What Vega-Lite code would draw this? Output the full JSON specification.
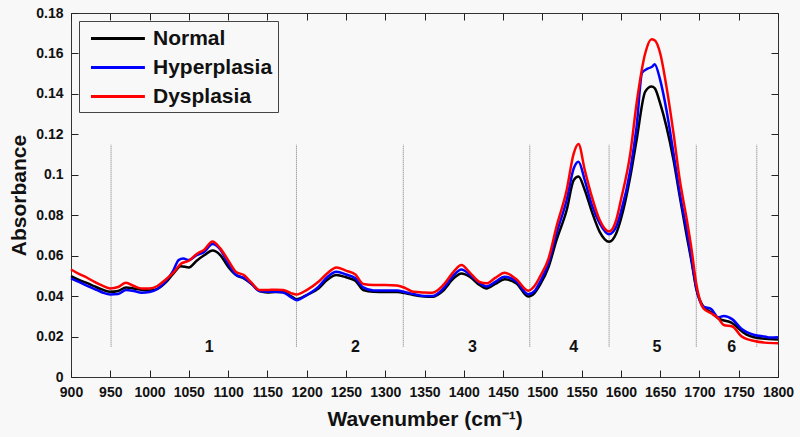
{
  "$schema": "https://vega.github.io/schema/vega-lite/v6.json",
  "autosize": {"type": "none"},
  "width": 707,
  "height": 364,
  "padding": {"left": 71, "top": 13, "right": 22, "bottom": 60},
  "background": "#f8f8f8",
  "config": {
    "font": "Liberation Sans",
    "view": {"stroke": "#333333", "strokeWidth": 1},
    "axis": {"grid": false, "domain": false, "ticks": true, "offset": -7, "zindex": 3, "labelFont": "Liberation Sans", "labelFontWeight": "bold", "labelFontSize": 14, "labelColor": "#111111", "labelFlush": false, "labelOverlap": false, "tickColor": "#222222", "tickWidth": 1, "tickSize": 7, "tickOpacity": 1, "titleFont": "Liberation Sans", "titleFontWeight": "bold", "titleFontSize": 21, "titleColor": "#111111"}
  },
  "datasets": {
    "curves": [
      {"w":900,"v":0.0499,"s":"Normal"},{"w":910,"v":0.048,"s":"Normal"},{"w":920,"v":0.0465,"s":"Normal"},{"w":930,"v":0.0448,"s":"Normal"},{"w":940,"v":0.0432,"s":"Normal"},{"w":950,"v":0.0421,"s":"Normal"},{"w":960,"v":0.0425,"s":"Normal"},{"w":970,"v":0.0443,"s":"Normal"},{"w":980,"v":0.0438,"s":"Normal"},{"w":990,"v":0.043,"s":"Normal"},{"w":1000,"v":0.0428,"s":"Normal"},{"w":1010,"v":0.0436,"s":"Normal"},{"w":1020,"v":0.0465,"s":"Normal"},{"w":1030,"v":0.051,"s":"Normal"},{"w":1040,"v":0.0548,"s":"Normal"},{"w":1050,"v":0.0542,"s":"Normal"},{"w":1060,"v":0.0575,"s":"Normal"},{"w":1070,"v":0.0603,"s":"Normal"},{"w":1080,"v":0.0625,"s":"Normal"},{"w":1090,"v":0.0603,"s":"Normal"},{"w":1100,"v":0.0545,"s":"Normal"},{"w":1110,"v":0.0504,"s":"Normal"},{"w":1120,"v":0.0488,"s":"Normal"},{"w":1130,"v":0.046,"s":"Normal"},{"w":1140,"v":0.0425,"s":"Normal"},{"w":1150,"v":0.0418,"s":"Normal"},{"w":1160,"v":0.042,"s":"Normal"},{"w":1170,"v":0.042,"s":"Normal"},{"w":1180,"v":0.04,"s":"Normal"},{"w":1187,"v":0.0385,"s":"Normal"},{"w":1200,"v":0.0405,"s":"Normal"},{"w":1215,"v":0.0438,"s":"Normal"},{"w":1226,"v":0.048,"s":"Normal"},{"w":1238,"v":0.0504,"s":"Normal"},{"w":1250,"v":0.0493,"s":"Normal"},{"w":1262,"v":0.0476,"s":"Normal"},{"w":1272,"v":0.043,"s":"Normal"},{"w":1285,"v":0.0421,"s":"Normal"},{"w":1300,"v":0.042,"s":"Normal"},{"w":1315,"v":0.042,"s":"Normal"},{"w":1325,"v":0.0415,"s":"Normal"},{"w":1336,"v":0.0405,"s":"Normal"},{"w":1350,"v":0.0398,"s":"Normal"},{"w":1360,"v":0.0397,"s":"Normal"},{"w":1374,"v":0.0428,"s":"Normal"},{"w":1387,"v":0.0488,"s":"Normal"},{"w":1397,"v":0.0512,"s":"Normal"},{"w":1408,"v":0.0495,"s":"Normal"},{"w":1420,"v":0.0455,"s":"Normal"},{"w":1429,"v":0.0438,"s":"Normal"},{"w":1440,"v":0.046,"s":"Normal"},{"w":1452,"v":0.0483,"s":"Normal"},{"w":1467,"v":0.0463,"s":"Normal"},{"w":1482,"v":0.0398,"s":"Normal"},{"w":1490,"v":0.0415,"s":"Normal"},{"w":1497,"v":0.0455,"s":"Normal"},{"w":1508,"v":0.0545,"s":"Normal"},{"w":1518,"v":0.0677,"s":"Normal"},{"w":1531,"v":0.0826,"s":"Normal"},{"w":1540,"v":0.0974,"s":"Normal"},{"w":1546,"v":0.0991,"s":"Normal"},{"w":1554,"v":0.0925,"s":"Normal"},{"w":1563,"v":0.0818,"s":"Normal"},{"w":1573,"v":0.0718,"s":"Normal"},{"w":1585,"v":0.0669,"s":"Normal"},{"w":1594,"v":0.071,"s":"Normal"},{"w":1600,"v":0.078,"s":"Normal"},{"w":1612,"v":0.0991,"s":"Normal"},{"w":1620,"v":0.1172,"s":"Normal"},{"w":1631,"v":0.1411,"s":"Normal"},{"w":1639,"v":0.1436,"s":"Normal"},{"w":1643,"v":0.1428,"s":"Normal"},{"w":1650,"v":0.1353,"s":"Normal"},{"w":1658,"v":0.1238,"s":"Normal"},{"w":1667,"v":0.1073,"s":"Normal"},{"w":1675,"v":0.0891,"s":"Normal"},{"w":1684,"v":0.0694,"s":"Normal"},{"w":1690,"v":0.057,"s":"Normal"},{"w":1696,"v":0.0435,"s":"Normal"},{"w":1705,"v":0.0348,"s":"Normal"},{"w":1715,"v":0.032,"s":"Normal"},{"w":1724,"v":0.029,"s":"Normal"},{"w":1740,"v":0.027,"s":"Normal"},{"w":1760,"v":0.021,"s":"Normal"},{"w":1780,"v":0.019,"s":"Normal"},{"w":1800,"v":0.0185,"s":"Normal"},

      {"w":900,"v":0.0488,"s":"Hyperplasia"},{"w":910,"v":0.047,"s":"Hyperplasia"},{"w":920,"v":0.0452,"s":"Hyperplasia"},{"w":930,"v":0.0435,"s":"Hyperplasia"},{"w":940,"v":0.0418,"s":"Hyperplasia"},{"w":950,"v":0.0408,"s":"Hyperplasia"},{"w":960,"v":0.041,"s":"Hyperplasia"},{"w":970,"v":0.043,"s":"Hyperplasia"},{"w":980,"v":0.0425,"s":"Hyperplasia"},{"w":990,"v":0.0417,"s":"Hyperplasia"},{"w":1000,"v":0.042,"s":"Hyperplasia"},{"w":1010,"v":0.0435,"s":"Hyperplasia"},{"w":1020,"v":0.047,"s":"Hyperplasia"},{"w":1030,"v":0.0525,"s":"Hyperplasia"},{"w":1037,"v":0.0578,"s":"Hyperplasia"},{"w":1043,"v":0.0586,"s":"Hyperplasia"},{"w":1050,"v":0.0578,"s":"Hyperplasia"},{"w":1060,"v":0.0603,"s":"Hyperplasia"},{"w":1070,"v":0.062,"s":"Hyperplasia"},{"w":1080,"v":0.0658,"s":"Hyperplasia"},{"w":1090,"v":0.0631,"s":"Hyperplasia"},{"w":1100,"v":0.0562,"s":"Hyperplasia"},{"w":1110,"v":0.0506,"s":"Hyperplasia"},{"w":1120,"v":0.049,"s":"Hyperplasia"},{"w":1130,"v":0.046,"s":"Hyperplasia"},{"w":1140,"v":0.0425,"s":"Hyperplasia"},{"w":1150,"v":0.0422,"s":"Hyperplasia"},{"w":1160,"v":0.0422,"s":"Hyperplasia"},{"w":1170,"v":0.0418,"s":"Hyperplasia"},{"w":1180,"v":0.0395,"s":"Hyperplasia"},{"w":1187,"v":0.038,"s":"Hyperplasia"},{"w":1200,"v":0.0405,"s":"Hyperplasia"},{"w":1215,"v":0.0446,"s":"Hyperplasia"},{"w":1226,"v":0.0493,"s":"Hyperplasia"},{"w":1238,"v":0.052,"s":"Hyperplasia"},{"w":1250,"v":0.0507,"s":"Hyperplasia"},{"w":1262,"v":0.0488,"s":"Hyperplasia"},{"w":1272,"v":0.0443,"s":"Hyperplasia"},{"w":1285,"v":0.0428,"s":"Hyperplasia"},{"w":1300,"v":0.0428,"s":"Hyperplasia"},{"w":1315,"v":0.0428,"s":"Hyperplasia"},{"w":1325,"v":0.042,"s":"Hyperplasia"},{"w":1336,"v":0.041,"s":"Hyperplasia"},{"w":1350,"v":0.04,"s":"Hyperplasia"},{"w":1360,"v":0.04,"s":"Hyperplasia"},{"w":1374,"v":0.0438,"s":"Hyperplasia"},{"w":1387,"v":0.0503,"s":"Hyperplasia"},{"w":1397,"v":0.0532,"s":"Hyperplasia"},{"w":1408,"v":0.0505,"s":"Hyperplasia"},{"w":1420,"v":0.0465,"s":"Hyperplasia"},{"w":1429,"v":0.0448,"s":"Hyperplasia"},{"w":1440,"v":0.047,"s":"Hyperplasia"},{"w":1452,"v":0.0496,"s":"Hyperplasia"},{"w":1467,"v":0.0472,"s":"Hyperplasia"},{"w":1482,"v":0.0409,"s":"Hyperplasia"},{"w":1490,"v":0.0425,"s":"Hyperplasia"},{"w":1497,"v":0.047,"s":"Hyperplasia"},{"w":1508,"v":0.0565,"s":"Hyperplasia"},{"w":1518,"v":0.071,"s":"Hyperplasia"},{"w":1531,"v":0.0875,"s":"Hyperplasia"},{"w":1540,"v":0.1032,"s":"Hyperplasia"},{"w":1546,"v":0.1065,"s":"Hyperplasia"},{"w":1554,"v":0.0974,"s":"Hyperplasia"},{"w":1563,"v":0.0851,"s":"Hyperplasia"},{"w":1573,"v":0.076,"s":"Hyperplasia"},{"w":1585,"v":0.0706,"s":"Hyperplasia"},{"w":1594,"v":0.0743,"s":"Hyperplasia"},{"w":1600,"v":0.0815,"s":"Hyperplasia"},{"w":1612,"v":0.1024,"s":"Hyperplasia"},{"w":1620,"v":0.1238,"s":"Hyperplasia"},{"w":1627,"v":0.1505,"s":"Hyperplasia"},{"w":1634,"v":0.1525,"s":"Hyperplasia"},{"w":1640,"v":0.1535,"s":"Hyperplasia"},{"w":1643,"v":0.1547,"s":"Hyperplasia"},{"w":1650,"v":0.1469,"s":"Hyperplasia"},{"w":1658,"v":0.132,"s":"Hyperplasia"},{"w":1667,"v":0.1106,"s":"Hyperplasia"},{"w":1675,"v":0.0908,"s":"Hyperplasia"},{"w":1684,"v":0.072,"s":"Hyperplasia"},{"w":1690,"v":0.058,"s":"Hyperplasia"},{"w":1696,"v":0.044,"s":"Hyperplasia"},{"w":1705,"v":0.0348,"s":"Hyperplasia"},{"w":1715,"v":0.0336,"s":"Hyperplasia"},{"w":1724,"v":0.0295,"s":"Hyperplasia"},{"w":1731,"v":0.0302,"s":"Hyperplasia"},{"w":1742,"v":0.0285,"s":"Hyperplasia"},{"w":1753,"v":0.024,"s":"Hyperplasia"},{"w":1770,"v":0.0208,"s":"Hyperplasia"},{"w":1783,"v":0.02,"s":"Hyperplasia"},{"w":1790,"v":0.0195,"s":"Hyperplasia"},{"w":1800,"v":0.0197,"s":"Hyperplasia"},

      {"w":900,"v":0.0532,"s":"Dysplasia"},{"w":910,"v":0.051,"s":"Dysplasia"},{"w":920,"v":0.0492,"s":"Dysplasia"},{"w":930,"v":0.047,"s":"Dysplasia"},{"w":940,"v":0.0452,"s":"Dysplasia"},{"w":950,"v":0.0438,"s":"Dysplasia"},{"w":960,"v":0.0445,"s":"Dysplasia"},{"w":970,"v":0.0466,"s":"Dysplasia"},{"w":980,"v":0.045,"s":"Dysplasia"},{"w":990,"v":0.0438,"s":"Dysplasia"},{"w":1000,"v":0.0438,"s":"Dysplasia"},{"w":1010,"v":0.045,"s":"Dysplasia"},{"w":1020,"v":0.048,"s":"Dysplasia"},{"w":1030,"v":0.0515,"s":"Dysplasia"},{"w":1040,"v":0.056,"s":"Dysplasia"},{"w":1050,"v":0.0575,"s":"Dysplasia"},{"w":1060,"v":0.0608,"s":"Dysplasia"},{"w":1070,"v":0.0631,"s":"Dysplasia"},{"w":1080,"v":0.067,"s":"Dysplasia"},{"w":1090,"v":0.0636,"s":"Dysplasia"},{"w":1100,"v":0.0578,"s":"Dysplasia"},{"w":1110,"v":0.052,"s":"Dysplasia"},{"w":1120,"v":0.0504,"s":"Dysplasia"},{"w":1130,"v":0.0465,"s":"Dysplasia"},{"w":1140,"v":0.043,"s":"Dysplasia"},{"w":1150,"v":0.043,"s":"Dysplasia"},{"w":1160,"v":0.0432,"s":"Dysplasia"},{"w":1170,"v":0.043,"s":"Dysplasia"},{"w":1180,"v":0.0415,"s":"Dysplasia"},{"w":1187,"v":0.0408,"s":"Dysplasia"},{"w":1200,"v":0.043,"s":"Dysplasia"},{"w":1215,"v":0.0471,"s":"Dysplasia"},{"w":1226,"v":0.0512,"s":"Dysplasia"},{"w":1238,"v":0.0542,"s":"Dysplasia"},{"w":1250,"v":0.0526,"s":"Dysplasia"},{"w":1262,"v":0.0507,"s":"Dysplasia"},{"w":1272,"v":0.046,"s":"Dysplasia"},{"w":1285,"v":0.0455,"s":"Dysplasia"},{"w":1300,"v":0.0455,"s":"Dysplasia"},{"w":1315,"v":0.0452,"s":"Dysplasia"},{"w":1325,"v":0.0441,"s":"Dysplasia"},{"w":1336,"v":0.0421,"s":"Dysplasia"},{"w":1350,"v":0.0418,"s":"Dysplasia"},{"w":1360,"v":0.0417,"s":"Dysplasia"},{"w":1374,"v":0.0455,"s":"Dysplasia"},{"w":1387,"v":0.052,"s":"Dysplasia"},{"w":1397,"v":0.0554,"s":"Dysplasia"},{"w":1408,"v":0.0515,"s":"Dysplasia"},{"w":1420,"v":0.047,"s":"Dysplasia"},{"w":1429,"v":0.0463,"s":"Dysplasia"},{"w":1440,"v":0.049,"s":"Dysplasia"},{"w":1452,"v":0.0516,"s":"Dysplasia"},{"w":1467,"v":0.0483,"s":"Dysplasia"},{"w":1482,"v":0.0427,"s":"Dysplasia"},{"w":1490,"v":0.045,"s":"Dysplasia"},{"w":1497,"v":0.0496,"s":"Dysplasia"},{"w":1508,"v":0.0587,"s":"Dysplasia"},{"w":1518,"v":0.0743,"s":"Dysplasia"},{"w":1531,"v":0.0925,"s":"Dysplasia"},{"w":1540,"v":0.1106,"s":"Dysplasia"},{"w":1546,"v":0.1152,"s":"Dysplasia"},{"w":1554,"v":0.1024,"s":"Dysplasia"},{"w":1563,"v":0.0892,"s":"Dysplasia"},{"w":1573,"v":0.0776,"s":"Dysplasia"},{"w":1585,"v":0.072,"s":"Dysplasia"},{"w":1594,"v":0.0776,"s":"Dysplasia"},{"w":1600,"v":0.0875,"s":"Dysplasia"},{"w":1612,"v":0.1106,"s":"Dysplasia"},{"w":1620,"v":0.1353,"s":"Dysplasia"},{"w":1631,"v":0.1601,"s":"Dysplasia"},{"w":1639,"v":0.167,"s":"Dysplasia"},{"w":1643,"v":0.1665,"s":"Dysplasia"},{"w":1650,"v":0.1601,"s":"Dysplasia"},{"w":1658,"v":0.1436,"s":"Dysplasia"},{"w":1667,"v":0.1205,"s":"Dysplasia"},{"w":1675,"v":0.0974,"s":"Dysplasia"},{"w":1684,"v":0.0776,"s":"Dysplasia"},{"w":1690,"v":0.063,"s":"Dysplasia"},{"w":1696,"v":0.046,"s":"Dysplasia"},{"w":1705,"v":0.034,"s":"Dysplasia"},{"w":1715,"v":0.0315,"s":"Dysplasia"},{"w":1724,"v":0.029,"s":"Dysplasia"},{"w":1731,"v":0.0257,"s":"Dysplasia"},{"w":1742,"v":0.025,"s":"Dysplasia"},{"w":1753,"v":0.0203,"s":"Dysplasia"},{"w":1770,"v":0.0178,"s":"Dysplasia"},{"w":1783,"v":0.017,"s":"Dysplasia"},{"w":1800,"v":0.0167,"s":"Dysplasia"}
    ],
    "dividers": [
      {"w":951,"y0":0.015,"y1":0.115},{"w":1187,"y0":0.015,"y1":0.115},{"w":1323,"y0":0.015,"y1":0.115},{"w":1484,"y0":0.015,"y1":0.115},{"w":1585,"y0":0.015,"y1":0.115},{"w":1696,"y0":0.015,"y1":0.115},{"w":1773,"y0":0.015,"y1":0.115}
    ],
    "regions": [
      {"w":1076,"y":0.0146,"t":"1"},{"w":1262,"y":0.0146,"t":"2"},{"w":1411,"y":0.0146,"t":"3"},{"w":1540,"y":0.0146,"t":"4"},{"w":1646,"y":0.0146,"t":"5"},{"w":1741,"y":0.0146,"t":"6"}
    ]
  },
  "layer": [
    {
      "data": {"name": "dividers"},
      "mark": {"type": "rule", "color": "#777777", "strokeWidth": 1, "strokeDash": [1, 1]},
      "encoding": {
        "x": {"field": "w", "type": "quantitative", "scale": {"domain": [900, 1800], "nice": false}, "axis": {"orient": "top", "values": [900,950,1000,1050,1100,1150,1200,1250,1300,1350,1400,1450,1500,1550,1600,1650,1700,1750,1800], "labels": false, "title": null}},
        "y": {"field": "y0", "type": "quantitative", "scale": {"domain": [0, 0.18], "nice": false}, "axis": {"orient": "right", "values": [0,0.02,0.04,0.06,0.08,0.1,0.12,0.14,0.16,0.18], "labels": false, "title": null}},
        "y2": {"field": "y1"}
      }
    },
    {
      "data": {"name": "regions"},
      "mark": {"type": "text", "fontSize": 16, "fontWeight": "bold", "font": "Liberation Sans", "baseline": "middle", "align": "center", "color": "#111111"},
      "encoding": {
        "x": {"field": "w", "type": "quantitative", "axis": null},
        "y": {"field": "y", "type": "quantitative", "axis": null},
        "text": {"field": "t"}
      }
    },
    {
      "data": {"name": "curves"},
      "mark": {"type": "line", "strokeWidth": 2.5, "interpolate": "monotone"},
      "encoding": {
        "x": {"field": "w", "type": "quantitative", "axis": {"orient": "bottom", "values": [900,950,1000,1050,1100,1150,1200,1250,1300,1350,1400,1450,1500,1550,1600,1650,1700,1750,1800], "format": "d", "labelPadding": 8, "title": "Wavenumber (cm⁻¹)", "titlePadding": 9}},
        "y": {"field": "v", "type": "quantitative", "axis": {"orient": "left", "values": [0,0.02,0.04,0.06,0.08,0.1,0.12,0.14,0.16,0.18], "format": "~g", "labelPadding": 8, "title": "Absorbance", "titleX": -59, "titleY": 182, "titleAngle": -90, "titleAlign": "center", "titleBaseline": "middle"}},
        "color": {
          "field": "s", "type": "nominal",
          "scale": {"domain": ["Normal", "Hyperplasia", "Dysplasia"], "range": ["#000000", "#0000ff", "#ff0000"]},
          "legend": {"title": null, "orient": "top-left", "offset": 8, "symbolType": "M-0.5,0H4.4", "symbolSize": 484, "symbolStrokeWidth": 3, "symbolFillColor": "transparent", "labelFontSize": 21, "labelFontWeight": "bold", "labelFont": "Liberation Sans", "labelColor": "#111111", "strokeColor": "#444444", "fillColor": "#f8f8f8", "padding": 5, "rowPadding": 6, "labelOffset": 44}
        }
      }
    }
  ],
  "resolve": {"axis": {"x": "independent", "y": "independent"}}
}
